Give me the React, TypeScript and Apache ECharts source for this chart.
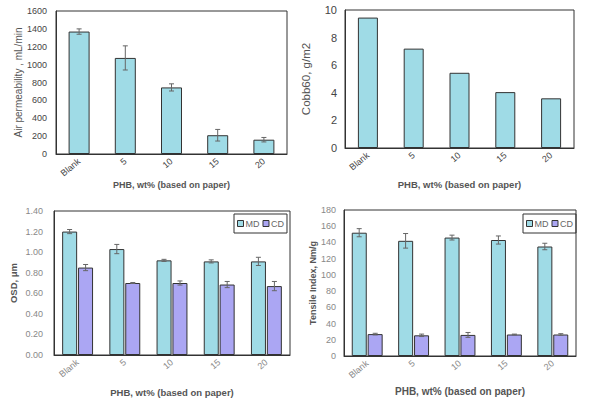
import React, { useEffect, useRef } from "react";
import * as echarts from "echarts";

const categories = ["Blank", "5", "10", "15", "20"];
const airPerm = [1370, 1075, 745, 210, 160];
const airPermErr = [30, 135, 40, 65, 25];
const cobb60 = [9.45, 7.2, 5.45, 4.05, 3.6];
const osdMD = [1.2, 1.03, 0.92, 0.91, 0.91];
const osdMDErr = [0.02, 0.045, 0.01, 0.015, 0.04];
const osdCD = [0.85, 0.7, 0.7, 0.685, 0.67];
const osdCDErr = [0.03, 0.005, 0.02, 0.03, 0.045];
const tensMD = [152, 142, 146, 143, 135];
const tensMDErr = [5, 9, 3, 5, 4];
const tensCD = [27, 25.5, 26, 26.5, 26.5];
const tensCDErr = [1, 1.5, 3, 0.5, 1];

const FONT = "Liberation Sans, Arial, sans-serif";
const CYAN = "#9fdbe6";
const PURPLE = "#aba6f3";
const BORDER = "#333";
const XTITLE = "PHB, wt% (based on paper)";

function errSeries(idx: number, vals: number[], errs: number[], offset: number) {
  return {
    type: "custom",
    xAxisIndex: idx,
    yAxisIndex: idx,
    silent: true,
    z: 5,
    data: vals.map((v, i) => [i, v, errs[i]]),
    renderItem: (params: any, api: any) => {
      const i = api.value(0);
      const v = api.value(1);
      const e = api.value(2);
      const top = api.coord([i, v + e]);
      const bot = api.coord([i, v - e]);
      const x = top[0] + offset;
      const cap = 2.5;
      const style = { stroke: "#666", lineWidth: 1 };
      return {
        type: "group",
        children: [
          { type: "line", shape: { x1: x, y1: top[1], x2: x, y2: bot[1] }, style },
          { type: "line", shape: { x1: x - cap, y1: top[1], x2: x + cap, y2: top[1] }, style },
          { type: "line", shape: { x1: x - cap, y1: bot[1], x2: x + cap, y2: bot[1] }, style },
        ],
      };
    },
  };
}

function xAxis(idx: number, fs: number, labelColor: string, nameGap: number, nameFs: number) {
  return {
    type: "category",
    gridIndex: idx,
    data: categories,
    axisTick: { show: false },
    axisLine: { lineStyle: { color: BORDER } },
    axisLabel: { rotate: 40, color: labelColor, fontSize: fs, fontFamily: FONT, margin: 6 },
    name: XTITLE,
    nameLocation: "middle",
    nameGap,
    nameTextStyle: { fontWeight: "bold", color: "#555", fontSize: nameFs, fontFamily: FONT },
  };
}

function yAxis(
  idx: number,
  max: number,
  interval: number,
  name: string,
  nameGap: number,
  nameFs: number,
  bold: boolean,
  fs: number,
  labelColor: string,
  margin: number,
  decimals: number
) {
  return {
    type: "value",
    gridIndex: idx,
    min: 0,
    max,
    interval,
    splitLine: { show: false },
    axisTick: { show: false },
    axisLine: { show: true, lineStyle: { color: BORDER } },
    axisLabel: {
      color: labelColor,
      fontSize: fs,
      fontFamily: FONT,
      margin,
      formatter: (v: number) => v.toFixed(decimals),
    },
    name,
    nameLocation: "middle",
    nameGap,
    nameTextStyle: {
      fontWeight: bold ? "bold" : "normal",
      color: "#555",
      fontSize: nameFs,
      fontFamily: FONT,
    },
  };
}

function legend(left: number, top: number) {
  return {
    data: ["MD", "CD"],
    left,
    top,
    orient: "horizontal",
    itemWidth: 6,
    itemHeight: 6,
    itemGap: 3,
    padding: [5, 3, 5, 3],
    borderColor: BORDER,
    borderWidth: 1,
    icon: "rect",
    textStyle: { fontSize: 9, color: "#666", fontFamily: FONT, padding: [0, 0, 0, -3] },
    itemStyle: { borderColor: BORDER, borderWidth: 1 },
    selectedMode: false,
  };
}

export default function App() {
  const ref = useRef<HTMLDivElement>(null);
  useEffect(() => {
    const chart = echarts.init(ref.current!, null, { renderer: "svg" });
    const gridBase = { show: true, borderColor: BORDER, borderWidth: 1, backgroundColor: "transparent" };
    const barStyle = (c: string) => ({ color: c, borderColor: BORDER, borderWidth: 1 });
    chart.setOption({
      animation: false,
      backgroundColor: "#fff",
      textStyle: { fontFamily: FONT },
      grid: [
        { ...gridBase, left: 56, top: 11, width: 231, height: 143 },
        { ...gridBase, left: 345, top: 10, width: 229, height: 138 },
        { ...gridBase, left: 54, top: 211, width: 236, height: 144 },
        { ...gridBase, left: 344, top: 210, width: 232, height: 146 },
      ],
      legend: [legend(234, 214), legend(523, 214)],
      xAxis: [
        xAxis(0, 9, "#444", 26, 9),
        xAxis(1, 9, "#444", 31, 9.5),
        xAxis(2, 9, "#888", 32, 9.5),
        xAxis(3, 9, "#888", 30, 10),
      ],
      yAxis: [
        yAxis(0, 1600, 200, "Air permeability , mL/min", 25, 10, false, 9, "#444", 9, 0),
        yAxis(1, 10, 2, "Cobb60, g/m2", 33, 11.5, false, 11, "#444", 8, 0),
        yAxis(2, 1.4, 0.2, "OSD, μm", 36, 9.5, true, 9, "#888", 11, 2),
        yAxis(3, 180, 20, "Tensile Index, Nm/g", 27, 9, true, 9, "#888", 8, 0),
      ],
      series: [
        {
          type: "bar",
          name: "Air",
          xAxisIndex: 0,
          yAxisIndex: 0,
          data: airPerm,
          barWidth: 21,
          itemStyle: barStyle(CYAN),
        },
        errSeries(0, airPerm, airPermErr, 0),
        {
          type: "bar",
          name: "Cobb",
          xAxisIndex: 1,
          yAxisIndex: 1,
          data: cobb60,
          barWidth: 20,
          itemStyle: barStyle(CYAN),
        },
        {
          type: "bar",
          name: "MD",
          xAxisIndex: 2,
          yAxisIndex: 2,
          data: osdMD,
          barWidth: 15,
          barGap: "6%",
          itemStyle: barStyle(CYAN),
        },
        {
          type: "bar",
          name: "CD",
          xAxisIndex: 2,
          yAxisIndex: 2,
          data: osdCD,
          barWidth: 15,
          barGap: "6%",
          itemStyle: barStyle(PURPLE),
        },
        errSeries(2, osdMD, osdMDErr, -8),
        errSeries(2, osdCD, osdCDErr, 8),
        {
          type: "bar",
          name: "MD",
          xAxisIndex: 3,
          yAxisIndex: 3,
          data: tensMD,
          barWidth: 15,
          barGap: "6%",
          itemStyle: barStyle(CYAN),
        },
        {
          type: "bar",
          name: "CD",
          xAxisIndex: 3,
          yAxisIndex: 3,
          data: tensCD,
          barWidth: 15,
          barGap: "6%",
          itemStyle: barStyle(PURPLE),
        },
        errSeries(3, tensMD, tensMDErr, -8),
        errSeries(3, tensCD, tensCDErr, 8),
      ],
    });
    return () => chart.dispose();
  }, []);
  return (
    <div
      ref={ref}
      style={{ position: "absolute", left: 0, top: 0, width: 589, height: 404, background: "#fff" }}
    />
  );
}
